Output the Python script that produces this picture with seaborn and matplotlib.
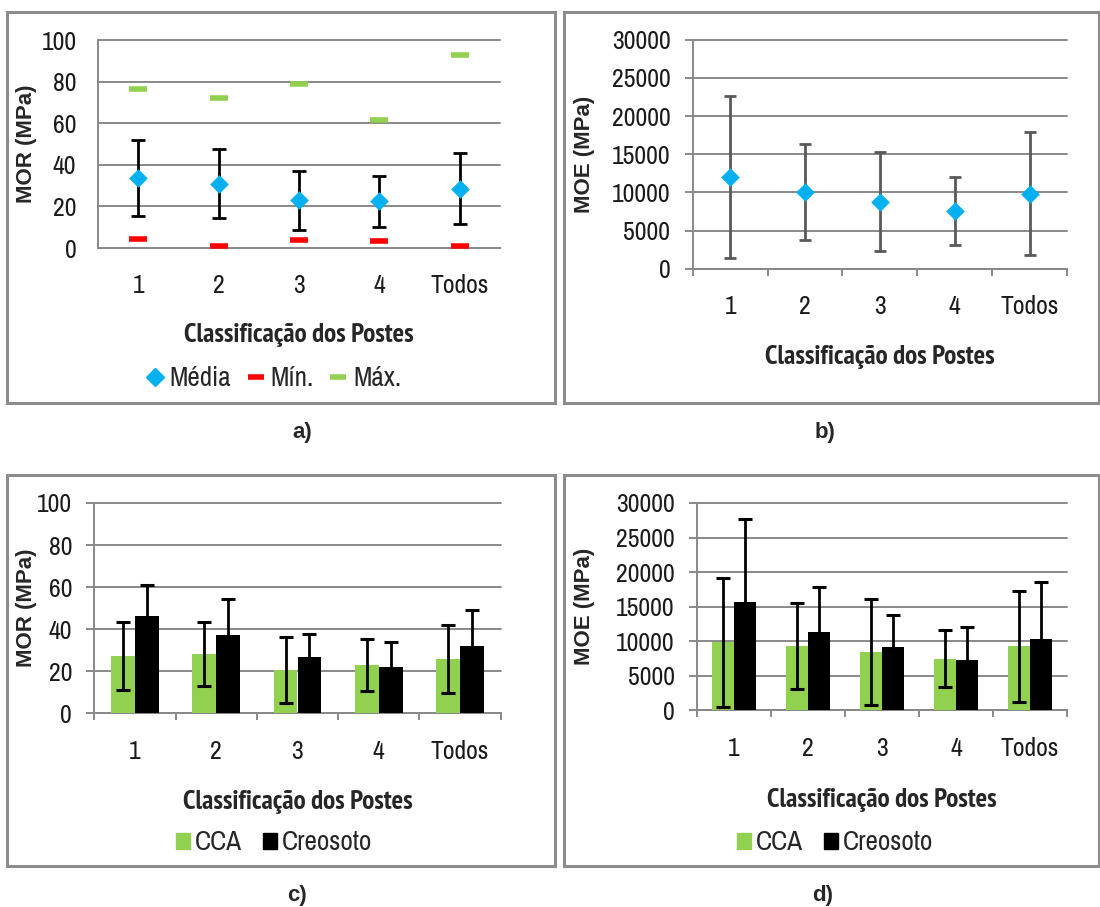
import numpy as np
import pandas as pd
import matplotlib
matplotlib.use("Agg")
import matplotlib.pyplot as plt
import seaborn as sns
from matplotlib import font_manager
from matplotlib.lines import Line2D
from matplotlib.patches import Rectangle, Patch

# ---- data -------------------------------------------------------------
categories = ["1", "2", "3", "4", "Todos"]

# a) MOR: mean, standard deviation, minimum, maximum
mor_media = [33.5, 30.9, 22.9, 22.4, 28.5]
mor_dp = [18.2, 16.5, 14.2, 12.3, 17.0]
mor_min = [4.3, 1.1, 4.0, 3.2, 1.1]
mor_max = [76.6, 72.3, 78.7, 61.7, 92.6]

# b) MOE: mean and standard deviation
moe_media = [12000, 10050, 8750, 7500, 9830]
moe_dp = [10570, 6310, 6480, 4450, 8040]

# c) MOR by preservative treatment
mor_cca = [27.3, 28.2, 20.6, 23.0, 25.8]
mor_cca_dp = [16.2, 15.2, 15.5, 12.4, 16.3]
mor_creo = [46.1, 37.2, 26.6, 22.0, 32.0]
mor_creo_dp = [15.1, 17.3, 11.3, 12.1, 17.0]

# d) MOE by preservative treatment
moe_cca = [9840, 9310, 8440, 7480, 9260]
moe_cca_dp = [9300, 6170, 7690, 4150, 8030]
moe_creo = [15720, 11330, 9210, 7280, 10370]
moe_creo_dp = [11910, 6560, 4530, 4820, 8200]

tratamentos = ["CCA", "Creosoto"]

# ---- style ------------------------------------------------------------
BLUE = "#00B0F0"
RED = "#FF0000"
GREEN = "#92D050"
GRID = "#898989"
FRAME = "#8c8c8c"


def _weight(w):
    try:
        return int(w)
    except (TypeError, ValueError):
        return {"bold": 700, "semibold": 600, "demibold": 600, "heavy": 800,
                "black": 900}.get(str(w).lower(), 400)


_faces = {}
for f in font_manager.fontManager.ttflist:
    _faces.setdefault(f.name, set()).add(_weight(f.weight))


def pick(candidates, min_weight):
    for name in candidates:
        if any(w >= min_weight for w in _faces.get(name, ())):
            return name
    return "Liberation Sans"


NARROW_LIST = ["Arial Narrow", "Liberation Sans Narrow", "Archivo Narrow",
               "PT Sans Narrow", "Roboto Condensed", "IBM Plex Sans Condensed"]
BOLD_LIST = ["Arial Narrow", "Liberation Sans Narrow", "PT Sans Narrow",
             "Archivo Narrow", "Roboto Condensed", "IBM Plex Sans Condensed",
             "Fira Sans Condensed", "Open Sans Condensed", "Barlow Semi Condensed"]
NARROW = [pick(NARROW_LIST, 400), "Liberation Sans", "DejaVu Sans"]
NARROW_BOLD = [pick(BOLD_LIST, 700), "Liberation Sans", "DejaVu Sans"]
ARIAL = ["Liberation Sans", "DejaVu Sans"]

sns.set_theme(style="white")
plt.rcParams["font.family"] = NARROW

W, H = 1100, 907
fig = plt.figure(figsize=(W / 100, H / 100), dpi=100)
fig.patch.set_facecolor("white")

TICK_FS = 18.5
LABEL_FS = 19.5
YLAB_FS = 16
LEG_FS = 19.5


def px_rect(left, top, right, bottom):
    return [left / W, 1 - bottom / H, (right - left) / W, (bottom - top) / H]


def style_axes(ax, ymax, ystep, outward, ylab_x, xlab_y, ylabel):
    n = len(categories)
    ax.set_xlim(-0.5, n - 0.5)
    ax.set_ylim(0, ymax)
    ax.set_yticks(np.arange(0, ymax + 1, ystep))
    ax.set_xticks(np.arange(n))
    ax.set_xticklabels(categories)
    ax.set_axisbelow(True)
    ax.yaxis.grid(True, color=GRID, lw=1.4)
    ax.xaxis.grid(False)
    for gl in ax.get_ygridlines():
        gl.set_clip_on(False)
    for s in ("top", "right"):
        ax.spines[s].set_visible(False)
    for s in ("left", "bottom"):
        ax.spines[s].set_color(GRID)
        ax.spines[s].set_linewidth(1.4)
    ax.set_facecolor("white")
    if outward:
        ax.tick_params(axis="y", which="major", length=6, width=1.4,
                       color=GRID, pad=10, labelsize=TICK_FS, left=True)
        ax.set_xticks(np.arange(-0.5, n), minor=True)
        ax.tick_params(axis="x", which="minor", length=5, width=1.4,
                       color=GRID, bottom=True)
    else:
        ax.tick_params(axis="y", length=0, pad=15.5, labelsize=TICK_FS)
    ax.tick_params(axis="x", which="major", length=0, pad=19, labelsize=TICK_FS)
    for lab in ax.get_xticklabels() + ax.get_yticklabels():
        lab.set_color("#1a1a1a")
    ax.set_ylabel(ylabel, fontsize=YLAB_FS, fontweight="bold", family=ARIAL)
    ax.yaxis.label.set_va("center")
    ax.yaxis.set_label_coords(ylab_x, 0.5)
    ax.set_xlabel("Classificação dos Postes", fontsize=LABEL_FS,
                  fontweight="bold", family=NARROW_BOLD)
    ax.xaxis.label.set_va("center")
    ax.xaxis.set_label_coords(0.5, xlab_y)


pos = np.arange(len(categories))

# ---- a) MOR summary ------------------------------------------------------
ax_a = fig.add_axes(px_rect(98, 40, 500, 248))
sns.stripplot(x=categories, y=mor_media, marker="D", jitter=False, color=BLUE,
              size=9.5, linewidth=0, ax=ax_a, zorder=6)
ax_a.errorbar(pos, mor_media, yerr=mor_dp, fmt="none", ecolor="black",
              elinewidth=2, capsize=5, capthick=2, zorder=5)
ax_a.plot(pos, mor_min, ls="none", marker="_", ms=13, mew=4, color=RED, zorder=5)
ax_a.plot(pos, mor_max, ls="none", marker="_", ms=13, mew=4, color=GREEN, zorder=5)
style_axes(ax_a, 100, 20, False, -0.177, -0.418, "MOR (MPa)")

leg_a = [
    Line2D([], [], ls="none", marker="D", ms=9.5, color=BLUE, label="Média"),
    Line2D([], [], ls="none", marker="_", ms=11, mew=4, color=RED, label="Mín."),
    Line2D([], [], ls="none", marker="_", ms=11, mew=4, color=GREEN, label="Máx."),
]
fig.legend(handles=leg_a, loc="center", bbox_to_anchor=(274 / W, 1 - 379 / H),
           ncol=3, frameon=False, fontsize=LEG_FS, handlelength=0.6,
           handletextpad=0.25, columnspacing=0.6)

# ---- b) MOE summary ------------------------------------------------------
ax_b = fig.add_axes(px_rect(692.7, 39.7, 1067, 268.7))
sns.stripplot(x=categories, y=moe_media, marker="D", jitter=False, color=BLUE,
              size=9.5, linewidth=0, ax=ax_b, zorder=6)
ax_b.errorbar(pos, moe_media, yerr=moe_dp, fmt="none", ecolor="#595959",
              elinewidth=2, capsize=4.5, capthick=2, zorder=5)
style_axes(ax_b, 30000, 5000, True, -0.29, -0.386, "MOE (MPa)")


# ---- c), d) by treatment --------------------------------------------------
def treatment_bars(ax, cca, cca_dp, creo, creo_dp, ymax, ystep, ylab_x, xlab_y, ylabel):
    df = pd.DataFrame({
        "Classe": categories * 2,
        "Tratamento": [tratamentos[0]] * len(categories) + [tratamentos[1]] * len(categories),
        "Valor": list(cca) + list(creo),
    })
    sns.barplot(data=df, x="Classe", y="Valor", hue="Tratamento",
                hue_order=tratamentos, palette={"CCA": GREEN, "Creosoto": "black"},
                width=0.59, gap=0, saturation=1, errorbar=None, legend=False,
                linewidth=0, ax=ax, zorder=3)
    n = len(categories)
    bars = ax.patches
    for i, (vals, sd) in enumerate([(cca, cca_dp), (creo, creo_dp)]):
        xs = [b.get_x() + b.get_width() / 2 for b in bars[i * n:(i + 1) * n]]
        ax.errorbar(xs, vals, yerr=sd, fmt="none", ecolor="black",
                    elinewidth=2, capsize=5, capthick=2.2, zorder=5)
    style_axes(ax, ymax, ystep, True, ylab_x, xlab_y, ylabel)


ax_c = fig.add_axes(px_rect(94.3, 503, 500.7, 713.3))
treatment_bars(ax_c, mor_cca, mor_cca_dp, mor_creo, mor_creo_dp,
               100, 20, -0.166, -0.422, "MOR (MPa)")

ax_d = fig.add_axes(px_rect(697, 503, 1067, 710.3))
treatment_bars(ax_d, moe_cca, moe_cca_dp, moe_creo, moe_creo_dp,
               30000, 5000, -0.305, -0.433, "MOE (MPa)")

leg_cd = [Patch(color=GREEN, label="CCA"), Patch(color="black", label="Creosoto")]
for cx in (274, 835):
    fig.legend(handles=leg_cd, loc="center", bbox_to_anchor=(cx / W, 1 - 843 / H),
               ncol=2, frameon=False, fontsize=LEG_FS, handlelength=0.52,
               handleheight=0.55, handletextpad=0.2, columnspacing=0.75)

# ---- chart frames and panel letters ---------------------------------------
for (l, t, r, b) in [(7, 12, 555, 403), (564, 12, 1099, 403),
                     (7, 475, 555, 866), (564, 475, 1099, 866)]:
    fig.add_artist(Rectangle((l / W, 1 - b / H), (r - l) / W, (b - t) / H,
                             transform=fig.transFigure, fill=False,
                             ec=FRAME, lw=2.2))

for letter, (x, y) in zip(["a)", "b)", "c)", "d)"],
                          [(302, 432), (825, 432), (297, 895), (823, 895)]):
    fig.text(x / W, 1 - y / H, letter, ha="center", va="center",
             fontsize=16, fontweight="bold", family=ARIAL)

fig.savefig("out.png", dpi=100, facecolor="white")
